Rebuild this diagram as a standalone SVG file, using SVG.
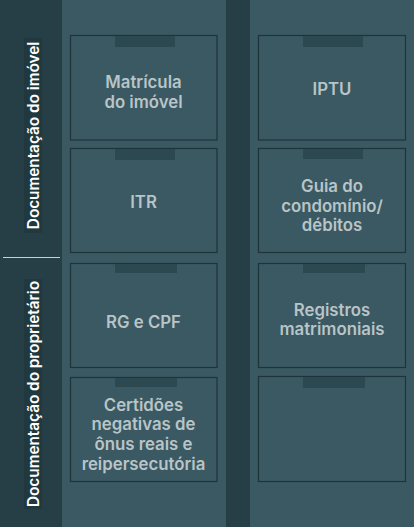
<svg xmlns="http://www.w3.org/2000/svg" width="414" height="527" viewBox="0 0 414 527">
<style>
.bg{fill:#3a5963}
.strip{fill:#263e45}
.box{fill:#3a5963;stroke:#1f343a;stroke-width:1.2}
.tab{fill:#2c4850}
.lbl-bg{fill:#21383e}
.t{font-family:Inter,"Liberation Sans",sans-serif;font-weight:600;font-size:16.8px;fill:#b9c4c7;text-anchor:middle}
.side{font-family:Inter,"Liberation Sans",sans-serif;font-weight:600;font-size:15.3px;fill:#ffffff;text-anchor:middle}
</style>
<rect class="bg" x="0" y="0" width="414" height="527"/>
<rect class="strip" x="0" y="0" width="62" height="527"/>
<rect class="strip" x="226" y="0" width="24" height="527"/>

<g id="label-imovel">
<rect class="lbl-bg" x="24" y="38" width="18" height="195"/>
<text class="side" transform="translate(38.5,135.5) rotate(-90)">Documentação do imóvel</text>
</g>
<g id="separator">
<line x1="3" y1="257.5" x2="60" y2="257.5" stroke="#c9d0d2" stroke-width="1.2"/>
</g>
<g id="label-proprietario">
<rect class="lbl-bg" x="24" y="279" width="18" height="230"/>
<text class="side" transform="translate(38.5,394) rotate(-90)">Documentação do proprietário</text>
</g>

<g id="matricula">
<rect class="box" x="70.5" y="35.5" width="146.5" height="104.5"/>
<rect class="tab" x="115" y="36" width="60" height="11"/>
<text class="t" x="143.5" y="88">Matrícula</text>
<text class="t" x="143.5" y="108">do imóvel</text>
</g>
<g id="itr">
<rect class="box" x="70.5" y="148.5" width="146.5" height="104"/>
<rect class="tab" x="115" y="149" width="60" height="11"/>
<text class="t" x="143.5" y="208">ITR</text>
</g>
<g id="rg-cpf">
<rect class="box" x="70.5" y="263.5" width="146.5" height="104"/>
<rect class="tab" x="115" y="264" width="62" height="9"/>
<text class="t" x="143.5" y="327.5">RG e CPF</text>
</g>
<g id="certidoes">
<rect class="box" x="70.5" y="377.5" width="146.5" height="104"/>
<rect class="tab" x="115" y="378" width="62" height="9"/>
<text class="t" x="143.5" y="410.5">Certidões</text>
<text class="t" x="143.5" y="430">negativas de</text>
<text class="t" x="143.5" y="449.5">ônus reais e</text>
<text class="t" x="143.5" y="469.5">reipersecutória</text>
</g>

<g id="iptu">
<rect class="box" x="258.5" y="35.5" width="147" height="104.5"/>
<rect class="tab" x="303" y="36" width="60" height="11"/>
<text class="t" x="332" y="95">IPTU</text>
</g>
<g id="guia-condominio">
<rect class="box" x="258.5" y="148.5" width="147" height="104"/>
<rect class="tab" x="303" y="149" width="60" height="10"/>
<text class="t" x="332" y="191.5">Guia do</text>
<text class="t" x="332" y="211.5">condomínio/</text>
<text class="t" x="332" y="231">débitos</text>
</g>
<g id="registros">
<rect class="box" x="258.5" y="263.5" width="147" height="104"/>
<rect class="tab" x="303" y="264" width="62" height="9"/>
<text class="t" x="332" y="315.5">Registros</text>
<text class="t" x="332" y="335">matrimoniais</text>
</g>
<g id="vazio">
<rect class="box" x="258.5" y="376.5" width="147" height="105"/>
<rect class="tab" x="303" y="377" width="62" height="11"/>
</g>
<g id="connectors"/>
</svg>
